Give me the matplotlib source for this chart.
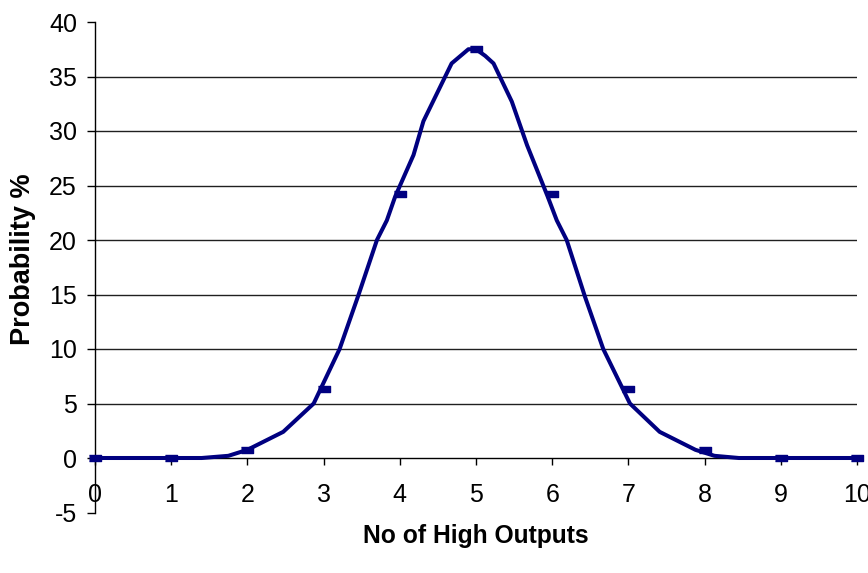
import numpy as np
import matplotlib.pyplot as plt

plt.rcParams['font.family'] = ['Liberation Sans', 'DejaVu Sans']
plt.rcParams['axes.unicode_minus'] = False

# integer points (markers)
outputs = [0, 1, 2, 3, 4, 5, 6, 7, 8, 9, 10]
prob = [0, 0, 0.7, 6.3, 24.2, 37.5, 24.2, 6.3, 0.7, 0, 0]

# smooth curve
curve_x = [0, 1.4, 1.75, 2.0, 2.47, 2.87, 3.21, 3.46, 3.70, 3.83, 3.94, 4.18,
           4.31, 4.68, 4.90, 5.0, 5.12, 5.23, 5.47, 5.67, 5.94, 6.06, 6.19,
           6.43, 6.67, 7.02, 7.41, 7.88, 8.13, 8.45, 10]
curve_y = [0, 0, 0.2, 0.75, 2.4, 5.0, 10.0, 15.0, 20.0, 21.8, 24.0, 27.8,
           30.9, 36.2, 37.5, 37.5, 36.9, 36.2, 32.7, 28.7, 24.0, 21.8, 20.0,
           14.8, 10.0, 5.0, 2.4, 0.75, 0.2, 0, 0]

yticks = [-5, 0, 5, 10, 15, 20, 25, 30, 35, 40]
xticks = outputs

navy = '#000080'

fig = plt.figure(figsize=(8.68, 5.73), dpi=100)
ax = fig.add_axes([95/868, 1 - 512.5/573, (857 - 95)/868, (512.5 - 22)/573])

ax.plot(curve_x, curve_y, color=navy, lw=2.9, solid_joinstyle='round', zorder=3, clip_on=False)
rect = [(-1, -0.5), (1, -0.5), (1, 0.5), (-1, 0.5)]
ax.plot(outputs, prob, ls='none', marker=rect, ms=9, color=navy, mec=navy, zorder=4, clip_on=False)

ax.set_xlim(0, 10)
ax.set_ylim(-5, 40)
ax.set_xticks(xticks)
ax.set_yticks(yticks)

ax.spines['top'].set_visible(False)
ax.spines['right'].set_visible(False)
ax.spines['bottom'].set_position(('data', 0))
ax.spines['left'].set_linewidth(1.0)
ax.spines['bottom'].set_linewidth(1.0)

ax.tick_params(axis='x', direction='out', length=5, width=1, pad=13, labelsize=18)
ax.tick_params(axis='y', direction='out', length=6, width=1, pad=7, labelsize=18)

ax.grid(axis='y', color='#202020', lw=1.0)
for yv, gl in zip(yticks, ax.yaxis.get_gridlines()):
    if yv in (-5, 0, 40):
        gl.set_visible(False)
ax.set_axisbelow(True)

fig.text(476/868, 1 - 536/573, 'No of High Outputs', ha='center', va='center',
         fontsize=17.7, fontweight='bold')
fig.text(23/868, 1 - 259/573, 'Probability %', ha='center', va='center',
         rotation=90, fontsize=19.5, fontweight='bold')

fig.savefig('out.png', dpi=100)
